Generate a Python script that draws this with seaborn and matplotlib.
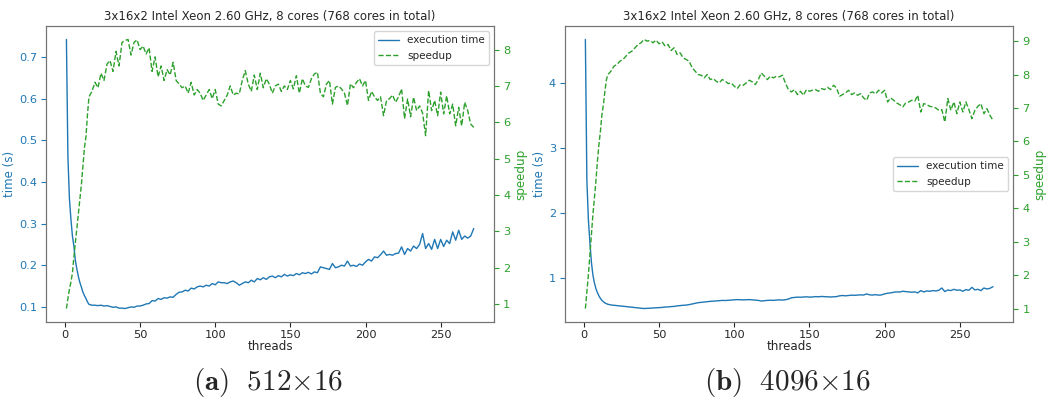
import matplotlib
matplotlib.use("Agg")
import matplotlib.pyplot as plt
import seaborn as sns
import numpy as np

# ---------------- data ----------------
threads = list(range(1, 17)) + list(range(18, 273, 2))

time_a = [0.742, 0.46, 0.36, 0.31, 0.27, 0.245, 0.21, 0.19, 0.172, 0.158, 0.147, 0.135, 0.127, 0.12, 0.112, 0.106,
          0.104, 0.104, 0.103, 0.104, 0.102, 0.103, 0.101, 0.099, 0.100, 0.097,
          0.097, 0.096, 0.098, 0.100, 0.099, 0.102, 0.102, 0.104, 0.107, 0.108,
          0.115, 0.114, 0.120, 0.118, 0.122, 0.121, 0.124, 0.123, 0.130, 0.135,
          0.136, 0.140, 0.138, 0.145, 0.143, 0.148, 0.150, 0.148, 0.152, 0.150,
          0.156, 0.153, 0.160, 0.158, 0.158, 0.156, 0.160, 0.162, 0.158, 0.152,
          0.156, 0.160, 0.158, 0.164, 0.160, 0.168, 0.165, 0.170, 0.166, 0.172,
          0.174, 0.170, 0.175, 0.172, 0.178, 0.174, 0.177, 0.175, 0.180, 0.177,
          0.182, 0.180, 0.183, 0.179, 0.184, 0.182, 0.196, 0.194, 0.192, 0.190,
          0.204, 0.194, 0.196, 0.200, 0.198, 0.210, 0.198, 0.200, 0.197, 0.203,
          0.200, 0.208, 0.214, 0.210, 0.220, 0.218, 0.225, 0.234, 0.224, 0.226,
          0.224, 0.228, 0.229, 0.244, 0.226, 0.240, 0.234, 0.246, 0.240, 0.250,
          0.276, 0.240, 0.252, 0.238, 0.262, 0.240, 0.262, 0.245, 0.260, 0.252,
          0.280, 0.260, 0.284, 0.262, 0.270, 0.265, 0.270, 0.288]

speedup_a = [0.87, 1.15, 1.4, 1.6, 1.85, 2.3, 2.7, 3.1, 3.5, 3.9, 4.3, 4.8, 5.3, 5.6, 6.2, 6.7,
             6.85, 7.10, 6.95, 7.35, 7.15, 7.60, 7.70, 7.40, 7.95, 7.55,
             8.20, 8.25, 8.28, 7.85, 8.20, 8.27, 8.00, 8.10, 7.88, 8.05,
             7.40, 7.80, 7.25, 7.55, 7.15, 7.45, 7.30, 7.65, 7.15, 7.05,
             6.95, 7.00, 6.80, 7.10, 6.75, 6.90, 6.80, 6.60, 6.75, 6.90,
             6.65, 6.90, 6.50, 6.45, 6.60, 6.75, 7.00, 6.75, 6.80, 6.78,
             7.15, 7.42, 7.05, 6.85, 7.30, 6.90, 7.35, 6.95, 7.20, 7.05,
             6.80, 7.00, 7.05, 6.85, 7.00, 6.90, 7.15, 6.92, 7.28, 6.80,
             7.20, 7.00, 6.96, 7.20, 7.33, 7.38, 6.80, 6.70, 7.05, 7.15,
             6.50, 6.96, 7.00, 6.92, 6.80, 6.46, 7.06, 6.95, 7.10, 7.20,
             7.00, 7.15, 6.60, 6.85, 6.70, 6.60, 6.70, 6.18, 6.60, 6.65,
             6.75, 6.55, 6.70, 6.92, 6.10, 6.64, 6.15, 6.69, 6.32, 6.45,
             6.25, 5.63, 6.87, 6.32, 6.60, 6.18, 6.83, 6.23, 6.73, 6.23,
             6.50, 5.90, 6.41, 5.90, 6.55, 6.32, 5.95, 5.86]

time_b = [4.66, 2.5, 1.9, 1.55, 1.25, 1.05, 0.93, 0.84, 0.78, 0.73, 0.69, 0.66, 0.64, 0.62, 0.61, 0.60,
          0.590, 0.585, 0.580, 0.575, 0.570, 0.565, 0.560, 0.555, 0.550, 0.545,
          0.540, 0.535, 0.538, 0.540, 0.545, 0.548, 0.550, 0.552, 0.558, 0.560,
          0.565, 0.568, 0.575, 0.580, 0.585, 0.588, 0.595, 0.605, 0.615, 0.625,
          0.630, 0.635, 0.640, 0.645, 0.648, 0.652, 0.655, 0.660, 0.658, 0.662,
          0.665, 0.668, 0.672, 0.670, 0.668, 0.670, 0.672, 0.668, 0.665, 0.660,
          0.650, 0.655, 0.660, 0.662, 0.660, 0.665, 0.668, 0.665, 0.670, 0.680,
          0.700, 0.705, 0.710, 0.708, 0.712, 0.715, 0.710, 0.712, 0.718, 0.715,
          0.720, 0.718, 0.715, 0.712, 0.715, 0.718, 0.730, 0.735, 0.730, 0.735,
          0.740, 0.738, 0.742, 0.745, 0.742, 0.760, 0.745, 0.742, 0.748, 0.740,
          0.745, 0.760, 0.770, 0.775, 0.785, 0.790, 0.788, 0.800, 0.795, 0.790,
          0.785, 0.790, 0.775, 0.810, 0.790, 0.805, 0.800, 0.810, 0.805, 0.815,
          0.850, 0.795, 0.820, 0.810, 0.830, 0.815, 0.820, 0.800, 0.825, 0.815,
          0.860, 0.820, 0.830, 0.810, 0.850, 0.835, 0.845, 0.870]

speedup_b = [1.0, 1.5, 2.0, 2.6, 3.2, 3.8, 4.3, 4.8, 5.4, 5.9, 6.3, 6.8, 7.1, 7.5, 7.85, 8.0,
             8.10, 8.25, 8.30, 8.40, 8.45, 8.55, 8.65, 8.70, 8.80, 8.90,
             8.95, 9.05, 9.00, 9.02, 8.95, 9.03, 8.92, 8.98, 8.85, 8.90,
             8.72, 8.80, 8.60, 8.65, 8.50, 8.45, 8.40, 8.20, 8.10, 8.00,
             7.98, 7.90, 8.00, 7.85, 7.88, 7.80, 7.75, 7.85, 7.80, 7.73,
             7.75, 7.65, 7.58, 7.70, 7.68, 7.75, 7.83, 7.78, 7.70, 7.85,
             8.05, 7.95, 7.85, 7.95, 7.90, 7.95, 7.93, 7.98, 7.75, 7.55,
             7.48, 7.55, 7.40, 7.50, 7.38, 7.55, 7.50, 7.53, 7.55, 7.50,
             7.58, 7.55, 7.62, 7.55, 7.68, 7.60, 7.35, 7.40, 7.45, 7.53,
             7.40, 7.45, 7.38, 7.43, 7.30, 7.23, 7.45, 7.48, 7.42, 7.53,
             7.45, 7.53, 7.18, 7.30, 7.23, 7.15, 7.10, 7.03, 7.15, 7.18,
             7.23, 7.20, 7.38, 6.88, 7.13, 7.10, 7.05, 7.03, 7.00, 6.93,
             6.95, 6.58, 7.28, 6.93, 7.18, 6.83, 7.18, 6.88, 7.18, 6.95,
             6.68, 6.93, 7.05, 7.13, 6.83, 6.98, 6.78, 6.63]

title = "3x16x2 Intel Xeon 2.60 GHz, 8 cores (768 cores in total)"
captions = [r"$\mathbf{(a)}\ \ 512{\times}16$", r"$\mathbf{(b)}\ \ 4096{\times}16$"]
legend_locs = ["upper right", "center right"]

# ---------------- style ----------------
sns.set_style("ticks")
plt.rcParams["font.family"] = ["DejaVu Sans"]
plt.rcParams["font.size"] = 8.2
plt.rcParams["mathtext.fontset"] = "cm"

c_time = "#1f77b4"
c_speed = "#2ca02c"

fig = plt.figure(figsize=(10.49, 4.03), dpi=100)
positions = [[0.0439, 0.201, 0.4271, 0.7345], [0.5386, 0.201, 0.4274, 0.7345]]
datasets = [(time_a, speedup_a), (time_b, speedup_b)]
caption_x = [0.256, 0.751]

for pos, (tm, sp), cap, loc, cx in zip(positions, datasets, captions, legend_locs, caption_x):
    ax = fig.add_axes(pos)
    sns.lineplot(x=threads, y=tm, ax=ax, color=c_time, linewidth=1.0, label="execution time", legend=False)
    ax2 = ax.twinx()
    sns.lineplot(x=threads, y=sp, ax=ax2, color=c_speed, linewidth=1.0, linestyle="--",
                 label="speedup", legend=False)
    ax.set_xlabel("threads", fontsize=8.6, labelpad=0)
    ax.set_ylabel("time (s)", color=c_time, fontsize=8.6, labelpad=2)
    ax2.set_ylabel("speedup", color=c_speed, fontsize=8.6, labelpad=3)
    ax.tick_params(axis="y", colors=c_time, labelsize=8.2, length=3.5, pad=3)
    ax.tick_params(axis="x", labelsize=8.2, length=3.5, pad=2.5)
    ax2.tick_params(axis="y", colors=c_speed, labelsize=8.2, length=3.5, pad=3)
    ax.set_title(title, fontsize=8.5, pad=4)
    for a in (ax, ax2):
        for s in a.spines.values():
            s.set_visible(True)
            s.set_color("0.45")
    h1, l1 = ax.get_legend_handles_labels()
    h2, l2 = ax2.get_legend_handles_labels()
    ax2.legend(h1 + h2, l1 + l2, loc=loc, fontsize=7.5, frameon=True)
    fig.text(cx, 0.052, cap, ha="center", va="center", fontsize=21)

fig.savefig("out.png", dpi=100)
